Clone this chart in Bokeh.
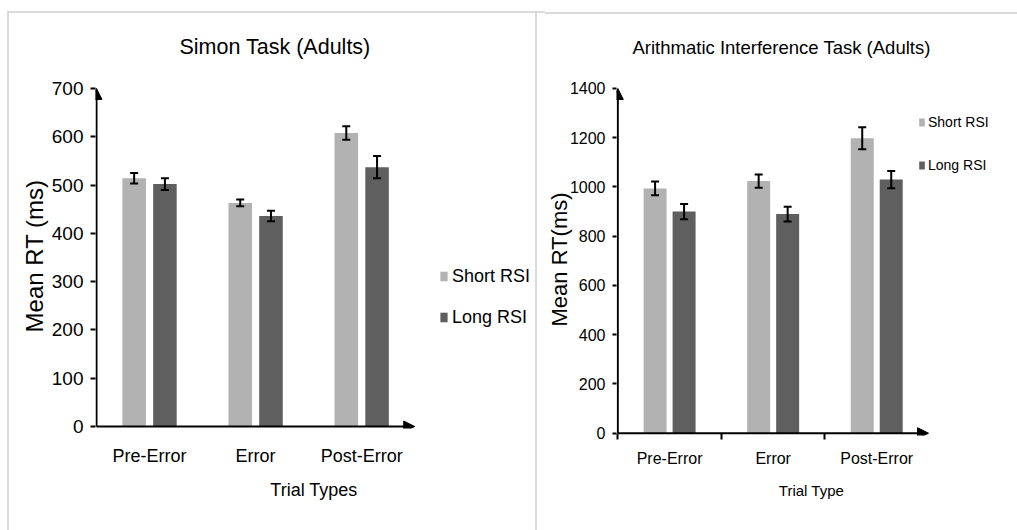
from bokeh.plotting import figure
from bokeh.models import (ColumnDataSource, Whisker, TeeHead, Arrow, NormalHead,
                          Legend, LegendItem, FixedTicker, Range1d)
from bokeh.layouts import row
from bokeh.embed import file_html
from bokeh.resources import INLINE

# ---------------- data ----------------
categories = ["Pre-Error", "Error", "Post-Error"]
series_names = ["Short RSI", "Long RSI"]

simon_short = [514, 463, 608]
simon_short_err = [11, 7, 14]
simon_long = [502, 436, 537]
simon_long_err = [12, 11, 23]
simon_yticks = [0, 100, 200, 300, 400, 500, 600, 700]

arith_short = [994, 1024, 1198]
arith_short_err = [28, 27, 45]
arith_long = [900, 890, 1030]
arith_long_err = [31, 30, 35]
arith_yticks = [0, 200, 400, 600, 800, 1000, 1200, 1400]

FONT = "Liberation Sans"
SHORT_COLOR = "#b2b2b2"
LONG_COLOR = "#5f5f5f"
PANEL_LINE = "#dadada"


def make_chart(title, ylabel, xlabel, short, short_err, long_, long_err, yticks, c):
    n = len(categories)
    p = figure(frame_width=c["fw"], frame_height=c["fh"],
               min_border_left=c["bl"], min_border_right=c["br"],
               min_border_top=c["bt"], min_border_bottom=c["bb"],
               x_range=Range1d(*c["xr"]), y_range=Range1d(*c["yr"]),
               output_backend="svg", toolbar_location=None)
    p.outline_line_color = None
    p.grid.visible = False
    p.background_fill_color = "white"
    p.border_fill_color = None
    p.styles = {"background": c["panel_bg"]}

    centers = [i + 0.5 for i in range(n)]
    src = ColumnDataSource(dict(
        xs=[x - c["dodge"] for x in centers],
        xl=[x + c["dodge"] for x in centers],
        short=short, long=long_,
        s_up=[v + e for v, e in zip(short, short_err)],
        s_lo=[v - e for v, e in zip(short, short_err)],
        l_up=[v + e for v, e in zip(long_, long_err)],
        l_lo=[v - e for v, e in zip(long_, long_err)],
    ))
    r1 = p.vbar(x="xs", top="short", width=c["bw"], bottom=0, source=src,
                fill_color=SHORT_COLOR, line_color=None)
    r2 = p.vbar(x="xl", top="long", width=c["bw"], bottom=0, source=src,
                fill_color=LONG_COLOR, line_color=None)
    for base, up, lo in (("xs", "s_up", "s_lo"), ("xl", "l_up", "l_lo")):
        w = Whisker(base=base, upper=up, lower=lo, source=src, line_width=2,
                    line_color="black", level="overlay",
                    upper_head=TeeHead(size=8, line_width=2, line_color="black"),
                    lower_head=TeeHead(size=8, line_width=2, line_color="black"))
        p.add_layout(w)

    # axes drawn as arrows
    p.add_layout(Arrow(x_start=0, y_start=0, x_end=0, y_end=yticks[-1], line_width=2,
                       line_color="black",
                       end=NormalHead(size=11, fill_color="black", line_color="black")))
    p.add_layout(Arrow(x_start=0, y_start=0, x_end=n, y_end=0, line_width=2,
                       line_color="black",
                       end=NormalHead(size=11, fill_color="black", line_color="black")))

    # y axis
    ya = p.yaxis[0]
    ya.ticker = FixedTicker(ticks=yticks)
    ya.axis_line_color = None
    ya.major_tick_out = c["ytick"]
    ya.major_tick_in = 0
    ya.major_tick_line_width = 2
    ya.minor_tick_line_color = None
    ya.major_label_text_font = FONT
    ya.major_label_text_font_size = c["ytick_fs"]
    ya.major_label_text_color = "black"
    ya.major_label_standoff = c["ystand"]
    ya.axis_label = ylabel
    ya.axis_label_text_font = FONT
    ya.axis_label_text_font_style = "normal"
    ya.axis_label_text_font_size = c["ylab_fs"]
    ya.axis_label_text_color = "black"
    ya.axis_label_standoff = c["ylab_stand"]

    # x axis
    xa = p.xaxis[0]
    xa.ticker = FixedTicker(ticks=centers, minor_ticks=c["minor"])
    xa.major_label_overrides = {x: lab for x, lab in zip(centers, categories)}
    xa.axis_line_color = None
    xa.major_tick_line_color = None
    xa.minor_tick_line_color = "black"
    xa.minor_tick_line_width = 2
    xa.minor_tick_out = c["xtick_out"]
    xa.minor_tick_in = c["xtick_in"]
    xa.major_label_text_font = FONT
    xa.major_label_text_font_size = c["xtick_fs"]
    xa.major_label_text_color = "black"
    xa.major_label_standoff = c["xstand"]
    xa.axis_label = xlabel
    xa.axis_label_text_font = FONT
    xa.axis_label_text_font_style = "normal"
    xa.axis_label_text_font_size = c["xlab_fs"]
    xa.axis_label_text_color = "black"
    xa.axis_label_standoff = c["xlab_stand"]

    # title
    p.title.text = title
    p.title.align = "left"
    p.title.offset = c["toff"]
    p.title.standoff = c["tstand"]
    p.title.text_font = FONT
    p.title.text_font_style = "normal"
    p.title.text_font_size = c["t_fs"]
    p.title.text_color = "black"

    legend = Legend(items=[LegendItem(label=series_names[0], renderers=[r1]),
                           LegendItem(label=series_names[1], renderers=[r2])],
                    location=c["lloc"], orientation="vertical",
                    padding=0, margin=0, spacing=c["lspace"],
                    glyph_width=c["gw"], glyph_height=c["gh"],
                    label_height=c["lh"], label_standoff=c["lstand"],
                    label_text_font=FONT, label_text_font_size=c["l_fs"],
                    label_text_color="black",
                    border_line_color=None, background_fill_alpha=0)
    p.add_layout(legend)
    return p


def grad(x, y, w, h):
    return (f"linear-gradient({PANEL_LINE},{PANEL_LINE}) {x}px {y}px / {w}px {h}px no-repeat")


left_cfg = dict(fw=437, fh=345, bl=95, br=3, bt=83, bb=102,
                xr=(-0.0094, -0.0094 + 437 / 106.07), yr=(-4.14, 710.35),
                dodge=0.145, bw=0.222, ytick=5, ytick_fs="19px", ystand=7,
                ylab_fs="24px", ylab_stand=1, minor=[],
                xtick_out=0, xtick_in=0, xtick_fs="18px", xstand=11,
                xlab_fs="18px", xlab_stand=11,
                toff=84, tstand=49, t_fs="21.5px",
                lloc=(344, 98), lspace=15, gw=9, gh=12, lh=26, lstand=4, l_fs="18px",
                panel_bg=", ".join([grad(7, 11, 528, 2), grad(7, 11, 2, 519), "white"]))

right_cfg = dict(fw=390, fh=352, bl=81, br=11, bt=81, bb=97,
                 xr=(-0.0126, -0.0126 + 390 / 103.57), yr=(-9.33, 1420.3),
                 dodge=0.14, bw=0.222, ytick=4, ytick_fs="16px", ystand=7,
                 ylab_fs="22px", ylab_stand=-5, minor=[0, 1, 2],
                 xtick_out=4, xtick_in=2, xtick_fs="16px", xstand=8,
                 xlab_fs="15px", xlab_stand=12,
                 toff=16, tstand=52, t_fs="18.5px",
                 lloc=(302, 259), lspace=21, gw=7, gh=10, lh=22, lstand=3, l_fs="14px",
                 panel_bg=", ".join([grad(0, 11, 2, 519), grad(0, 11, 10, 2),
                                     grad(10, 12, 472, 2), "white"]))

p1 = make_chart("Simon Task (Adults)", "Mean RT (ms)", "Trial Types",
                simon_short, simon_short_err, simon_long, simon_long_err,
                simon_yticks, left_cfg)
p2 = make_chart("Arithmatic Interference Task (Adults)", "Mean RT(ms)", "Trial Type",
                arith_short, arith_short_err, arith_long, arith_long_err,
                arith_yticks, right_cfg)

layout = row(p1, p2)
open("out.html", "w").write(file_html(layout, INLINE))
